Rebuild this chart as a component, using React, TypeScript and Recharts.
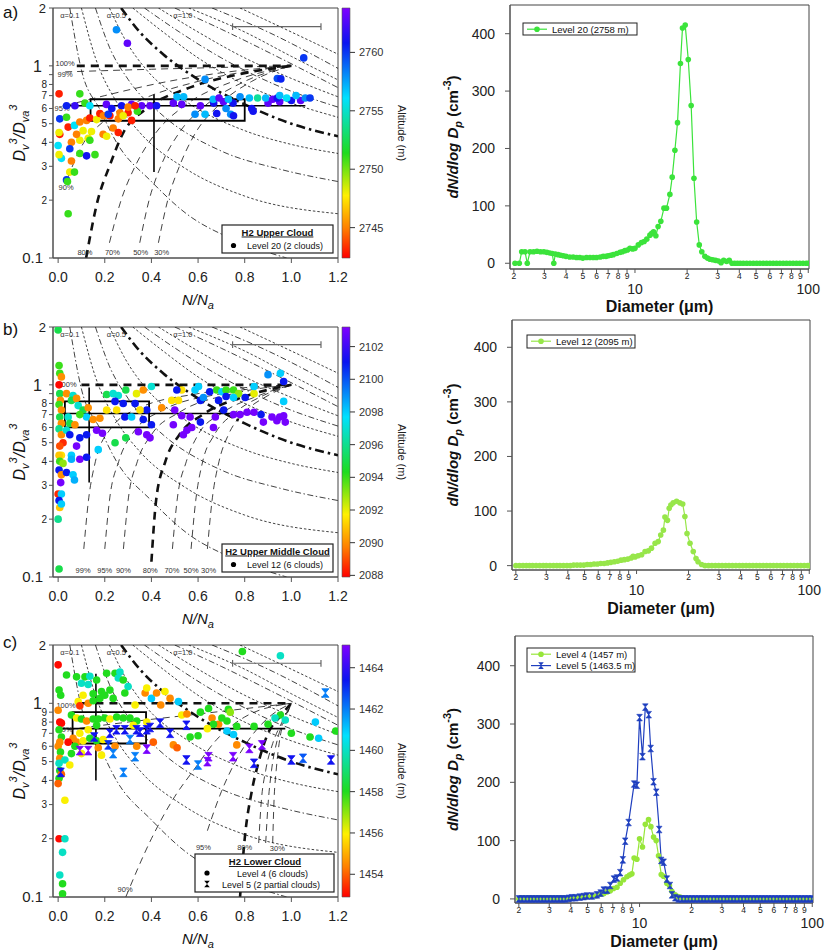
import React from 'react';
import { ComposedChart, Scatter, Line, XAxis, YAxis, ReferenceArea, ReferenceLine } from 'recharts';

const FONT = '"Liberation Sans", Arial, Helvetica, sans-serif';

type Pt = [number, number];
type Obs = [number, number, number];
type Txt = [number, number, string];

// ---------------- scatter observations: [N/Na, Dv3/Dva3, altitude m] ----------------
const pointsA: Obs[] = [
  [0.25,1.54,2758],[0.297,1.31,2763],[1.053,1.10,2760],[0.63,0.85,2758],[0.94,0.86,2759.5],[0.955,0.855,2760.5],
  [0.004,0.715,2743],[0.093,0.715,2751],
  [0.036,0.62,2760.5],[0.072,0.62,2762],[0.115,0.64,2751],[0.136,0.62,2756],[0.207,0.63,2763],[0.272,0.62,2761],
  [0.315,0.63,2763],[0.358,0.62,2763],[0.394,0.62,2763],[0.422,0.62,2761],[0.494,0.64,2763],[0.53,0.63,2763],
  [0.61,0.62,2763],[0.667,0.64,2761],[0.709,0.65,2763],[0.75,0.64,2761],[0.83,0.6,2761],[0.9,0.64,2763],
  [0.95,0.65,2763],[1.0,0.66,2761],[1.04,0.66,2763],
  [0.51,0.69,2757],[0.538,0.69,2757],[0.665,0.67,2757],[0.69,0.68,2763],[0.73,0.67,2757],[0.78,0.69,2758],
  [0.82,0.68,2757],[0.855,0.68,2754],[0.89,0.68,2757],[0.92,0.67,2763],[0.94,0.68,2761],[0.98,0.68,2756],
  [1.02,0.7,2757],[1.06,0.68,2758],[1.08,0.68,2760],[0.95,0.70,2757],
  [0.587,0.56,2758],[0.63,0.56,2757],[0.68,0.565,2761],[0.74,0.56,2758],[0.752,0.55,2761],[0.836,0.58,2761],[0.72,0.6,2758],
  [0.007,0.53,2760],[0.036,0.54,2751],[0.043,0.48,2743],[0.007,0.44,2743],[0.004,0.45,2748],[0.07,0.49,2756],
  [0.093,0.51,2745],[0.122,0.52,2745],[0.136,0.535,2743],[0.165,0.525,2748],[0.179,0.565,2743],[0.222,0.55,2743],
  [0.265,0.57,2745],[0.3,0.57,2743],[0.315,0.52,2743],[0.258,0.53,2745],[0.194,0.55,2745],[0.279,0.55,2748],
  [0.107,0.46,2748],[0.093,0.41,2748],[0.079,0.44,2745],[0.143,0.455,2748],[0.129,0.42,2748],[0.136,0.41,2751],
  [0.193,0.44,2745],[0.208,0.43,2748],[0.236,0.475,2745],[0.258,0.45,2743],[0.057,0.40,2745],[0.0,0.385,2756],
  [0.014,0.33,2756],[0.004,0.345,2748],[0.05,0.37,2760],[0.093,0.35,2751],[0.122,0.34,2761],[0.158,0.345,2751],
  [0.057,0.32,2745],[0.05,0.28,2748],[0.07,0.28,2751],[0.036,0.255,2760],[0.04,0.25,2751],[0.043,0.17,2751],
  [0.215,0.56,2760],[0.23,0.6,2761],[0.34,0.58,2751],[0.3,0.61,2745],[0.33,0.62,2743],
];

const pointsB: Obs[] = [
  [0.0,1.93,2095],[0.004,1.26,2094],[0.007,1.15,2094],[0.014,1.1,2090],[0.004,1.0,2088],[0.007,0.9,2095],
  [0.01,0.83,2090],[0.004,0.79,2094],[0.014,0.74,2090],[0.007,0.68,2095],[0.014,0.63,2090],[0.004,0.59,2096],
  [0.014,0.55,2090],[0.021,0.5,2088.5],[0.007,0.48,2089],[0.014,0.43,2091.5],[0.004,0.43,2091],[0.007,0.4,2094],
  [0.021,0.39,2093],[0.004,0.36,2101],[0.014,0.34,2090],[0.011,0.31,2103],[0.0,0.27,2088.5],[0.014,0.27,2098],
  [0.004,0.25,2101],[0.007,0.23,2091],[0.014,0.24,2098],[0.0,0.2,2096],[0.004,0.11,2095],
  [0.036,0.9,2090],[0.064,0.88,2097],[0.057,0.83,2095],[0.079,0.85,2090],[0.086,0.78,2097],[0.107,0.74,2095],
  [0.122,0.68,2098],[0.093,0.7,2094],[0.043,0.68,2097],[0.05,0.63,2095],[0.072,0.62,2090],[0.036,0.58,2097],
  [0.05,0.55,2101],[0.093,0.53,2101],[0.079,0.48,2103],[0.057,0.43,2098],[0.057,0.41,2098.5],[0.036,0.35,2101],
  [0.064,0.34,2098],[0.07,0.32,2098.5],[0.093,0.41,2103],[0.122,0.42,2101],[0.122,0.55,2101],
  [0.129,0.76,2090],[0.15,0.66,2090],[0.179,0.67,2090],[0.208,0.74,2091.5],[0.208,0.89,2095],[0.236,0.9,2097],
  [0.258,0.88,2097],[0.29,0.94,2095],[0.336,0.9,2092],[0.365,0.94,2090],[0.4,0.98,2097],[0.279,0.8,2101],
  [0.244,0.82,2101],[0.251,0.74,2091.5],[0.286,0.68,2101],[0.315,0.68,2098],[0.33,0.8,2101],[0.38,0.74,2101],
  [0.351,0.74,2091.5],[0.365,0.66,2101],[0.344,0.57,2103],[0.38,0.55,2103],[0.394,0.53,2103],[0.4,0.62,2101],
  [0.19,0.56,2103],[0.172,0.46,2098],[0.244,0.5,2095],[0.29,0.53,2095],[0.165,0.58,2103],
  [0.444,0.76,2090],[0.487,0.83,2091.5],[0.516,0.83,2091.5],[0.53,0.94,2091.5],[0.509,0.94,2101],[0.494,0.62,2103],
  [0.5,0.74,2103],[0.53,0.69,2103],[0.566,0.68,2103],[0.573,0.6,2103],[0.537,0.55,2103],[0.552,0.58,2103],
  [0.587,0.94,2098],[0.602,0.98,2098],[0.61,0.83,2101],[0.623,0.86,2099],[0.65,0.92,2101],[0.68,0.94,2094],
  [0.702,0.92,2098],[0.72,0.94,2094],[0.752,0.94,2094],[0.774,0.9,2093],[0.84,0.9,2092],[0.802,0.86,2101],
  [0.752,0.86,2098],[0.688,0.83,2101],[0.71,0.74,2101],[0.674,0.68,2103],[0.61,0.64,2101],[0.666,0.6,2103],
  [0.752,0.7,2103],[0.78,0.7,2103],[0.81,0.72,2103],[0.84,0.72,2103],[0.87,0.7,2101],[0.88,0.64,2103],
  [0.917,0.68,2103],[0.95,0.68,2103],[0.967,0.69,2103],[0.974,0.64,2103],[0.938,0.65,2103],[0.9,1.13,2099],
  [0.953,1.15,2098],[0.967,1.04,2101],[0.967,0.82,2098],[0.84,0.98,2098],[0.72,0.87,2101],
];

const pointsC4: Obs[] = [
  [0.0,1.58,1453],[0.004,1.17,1458],[0.011,1.1,1458],[0.0,0.92,1454.5],[0.007,0.8,1453],[0.014,0.79,1453],
  [0.004,0.73,1458],[0.014,0.67,1458],[0.007,0.63,1454.5],[0.0,0.6,1454.5],[0.01,0.56,1458],[0.007,0.52,1454.5],
  [0.004,0.49,1460],[0.007,0.45,1458],[0.014,0.43,1454],[0.004,0.41,1458],[0.0,0.385,1454],[0.029,0.316,1456],
  [0.004,0.2,1453],[0.029,0.2,1460],[0.019,0.17,1460],[0.007,0.13,1460],[0.019,0.117,1458],[0.019,0.104,1458],
  [0.036,1.4,1458],[0.079,1.37,1458],[0.1,1.27,1460],[0.115,1.37,1458],[0.129,1.25,1460],[0.136,1.38,1460],
  [0.165,1.32,1458],[0.208,1.43,1458],[0.244,1.43,1458],[0.258,1.35,1460],[0.265,1.45,1460],[0.279,1.32,1458],
  [0.3,1.22,1460],[0.107,1.1,1456],[0.15,1.12,1458],[0.186,1.15,1458],[0.222,1.17,1458],[0.086,1.02,1456],
  [0.129,1.0,1454.5],[0.093,0.97,1453.5],[0.15,1.03,1458],[0.179,1.06,1458],[0.2,1.1,1458],[0.236,1.06,1458],
  [0.286,1.13,1458],[0.33,0.98,1456],[0.373,1.13,1454.5],[0.4,1.06,1461],[0.422,1.13,1454.5],[0.458,1.15,1456],
  [0.38,1.2,1456],[0.48,1.06,1454.5],[0.516,1.02,1461],[0.53,0.87,1456],[0.552,0.88,1454.5],[0.44,0.98,1454.5],
  [0.61,0.9,1458],[0.645,0.94,1458],[0.66,0.84,1454.5],[0.688,0.78,1454.5],[0.702,0.84,1458],[0.724,0.81,1458],
  [0.73,0.93,1458],[0.738,0.9,1457],[0.38,0.8,1456],
  [0.057,0.87,1458],[0.079,0.84,1456],[0.1,0.83,1458],[0.122,0.81,1454.5],[0.15,0.83,1458],[0.172,0.83,1458],
  [0.2,0.84,1458],[0.222,0.83,1456],[0.251,0.85,1458],[0.279,0.84,1458],[0.308,0.84,1458],[0.337,0.81,1458],
  [0.322,0.77,1456],[0.165,0.77,1458],[0.129,0.73,1456],[0.093,0.7,1456],[0.064,0.66,1454.5],[0.043,0.63,1453],
  [0.079,0.63,1454.5],[0.107,0.64,1456],[0.136,0.66,1458],[0.165,0.64,1458],[0.193,0.65,1456],[0.072,0.6,1458],
  [0.1,0.55,1456],[0.057,0.55,1458],[0.186,0.54,1456],[0.172,0.59,1454.5],[0.029,0.51,1460],[0.05,0.48,1456],
  [0.244,0.6,1454.5],[0.337,0.6,1454.5],[0.408,0.63,1454],[0.494,0.61,1454.5],[0.51,0.59,1454],
  [0.766,0.76,1458],[0.84,0.76,1458],[0.9,0.78,1458],[0.766,0.61,1454.5],[0.724,0.72,1461],[0.666,0.78,1458],
  [0.64,0.74,1456],[0.566,0.67,1458],[0.6,0.68,1458],[0.752,0.69,1461],[0.953,0.87,1458],[0.93,0.84,1460],
  [0.974,0.82,1460],[1.0,0.7,1458],[1.08,0.67,1458],[1.117,0.66,1461],[1.103,0.8,1461],[1.19,0.72,1458],
  [0.79,1.85,1458],[0.953,1.76,1460],
];

const pointsC5: Obs[] = [
  [0.011,0.44,1463.5],[0.093,0.57,1465],[0.129,0.57,1465],[0.155,0.67,1463.5],[0.215,0.61,1463],[0.236,0.55,1462],
  [0.222,0.7,1463.5],[0.25,0.73,1463.5],[0.286,0.73,1463.5],[0.308,0.65,1462],[0.33,0.53,1462],[0.336,0.73,1463.5],
  [0.351,0.71,1463.5],[0.38,0.73,1463.5],[0.38,0.58,1465],[0.394,0.75,1463.5],[0.437,0.79,1463.5],[0.48,0.7,1463.5],
  [0.55,0.77,1463.5],[0.28,0.44,1462],[0.55,0.51,1463.5],[0.6,0.48,1462],[0.64,0.5,1465],[0.645,0.53,1465],
  [0.75,0.53,1465],[0.82,0.585,1465],[0.84,0.49,1463.5],[0.874,0.61,1465],[1.0,0.51,1463.5],[1.05,0.52,1462.5],
  [1.17,0.51,1463.5],[1.146,1.13,1462],
];

// ---------------- theoretical mixing curves ----------------
const alphaC1: Pt[] = [[0.05,2],[0.1,0.95],[0.18,0.59],[0.25,0.4],[0.4,0.25],[0.55,0.17],[0.75,0.125],[0.98,0.1]];
const alphaC2: Pt[] = [[0.1,2],[0.16,1.1],[0.25,0.65],[0.35,0.45],[0.55,0.29],[0.8,0.21],[1.2,0.17]];
const alphaC3: Pt[] = [[0.16,2],[0.22,1.25],[0.3,0.85],[0.45,0.55],[0.7,0.36],[0.95,0.29],[1.2,0.25]];
const alphaC4: Pt[] = [[0.22,2],[0.29,1.35],[0.38,0.95],[0.55,0.65],[0.8,0.46],[1.0,0.39],[1.2,0.35]];
const alphaC5: Pt[] = [[0.27,2],[0.35,1.5],[0.45,1.15],[0.6,0.85],[0.8,0.63],[1.0,0.5],[1.2,0.43]];
const alphaC6: Pt[] = [[0.32,2],[0.45,1.5],[0.6,1.1],[0.8,0.8],[1.0,0.64],[1.2,0.54]];
const alphaC7: Pt[] = [[0.37,2],[0.52,1.5],[0.7,1.1],[0.95,0.78],[1.2,0.61]];
const alphaC8: Pt[] = [[0.43,2],[0.6,1.5],[0.8,1.1],[1.0,0.86],[1.2,0.69]];
const alphaC9: Pt[] = [[0.5,2],[0.7,1.55],[0.95,1.1],[1.2,0.77]];
const alphaC10: Pt[] = [[0.56,2],[0.8,1.5],[1.0,1.12],[1.2,0.845]];
const alphaC11: Pt[] = [[0.66,2],[0.9,1.5],[1.2,0.97]];
const alphaC12: Pt[] = [[0.78,2],[1.0,1.5],[1.2,1.15]];

const pctA100: Pt[] = [[0.08,1],[1,1]];
const pctA99: Pt[] = [[0.03,0.93],[0.4,0.96],[1,1]];
const pctA95: Pt[] = [[0.03,0.62],[0.2,0.7],[0.45,0.82],[0.7,0.92],[1,1]];
const pctA90: Pt[] = [[0.04,0.26],[0.1,0.38],[0.2,0.52],[0.35,0.66],[0.6,0.83],[1,1]];
const pctA80: Pt[] = [[0.12,0.1],[0.17,0.2],[0.22,0.3],[0.28,0.45],[0.38,0.6],[0.55,0.76],[0.75,0.89],[1,1]];
const pctA70: Pt[] = [[0.22,0.12],[0.27,0.2],[0.33,0.3],[0.42,0.45],[0.55,0.63],[0.75,0.83],[1,1]];
const pctA50: Pt[] = [[0.35,0.12],[0.39,0.2],[0.44,0.3],[0.52,0.45],[0.63,0.62],[0.8,0.83],[1,1]];
const pctA30: Pt[] = [[0.43,0.12],[0.47,0.2],[0.52,0.3],[0.59,0.45],[0.68,0.61],[0.83,0.83],[1,1]];

const pctB100: Pt[] = [[0.1,1],[1,1]];
const pctB99: Pt[] = [[0.11,0.14],[0.13,0.25],[0.16,0.4],[0.22,0.58],[0.35,0.76],[0.6,0.9],[1,1]];
const pctB95: Pt[] = [[0.2,0.14],[0.22,0.25],[0.26,0.4],[0.32,0.56],[0.45,0.74],[0.7,0.9],[1,1]];
const pctB90: Pt[] = [[0.28,0.14],[0.3,0.25],[0.34,0.4],[0.4,0.55],[0.52,0.72],[0.75,0.9],[1,1]];
const pctB80: Pt[] = [[0.4,0.12],[0.42,0.25],[0.46,0.4],[0.52,0.55],[0.62,0.7],[0.8,0.87],[1,1]];
const pctB70: Pt[] = [[0.49,0.14],[0.51,0.25],[0.55,0.4],[0.6,0.55],[0.7,0.71],[0.85,0.87],[1,1]];
const pctB50: Pt[] = [[0.57,0.14],[0.59,0.25],[0.62,0.4],[0.67,0.55],[0.76,0.72],[0.88,0.88],[1,1]];
const pctB30: Pt[] = [[0.64,0.14],[0.66,0.25],[0.69,0.4],[0.73,0.55],[0.8,0.72],[0.9,0.88],[1,1]];

const pctC100: Pt[] = [[0.1,1],[1,1]];
const pctC99: Pt[] = [[0.04,0.73],[0.3,0.8],[0.6,0.88],[1,1]];
const pctC90: Pt[] = [[0.29,0.1],[0.4,0.2],[0.5,0.33],[0.58,0.45],[0.68,0.65],[0.8,0.85],[1,1]];
const pctC95: Pt[] = [[0.64,0.22],[0.7,0.35],[0.76,0.5],[0.83,0.68],[0.9,0.84],[1,1]];
const pctC80: Pt[] = [[0.78,0.1],[0.8,0.2],[0.83,0.35],[0.86,0.5],[0.9,0.7],[0.95,0.85],[1,1]];
const pctC70: Pt[] = [[0.86,0.19],[0.87,0.3],[0.89,0.45],[0.92,0.62],[0.96,0.8],[1,1]];
const pctC50: Pt[] = [[0.89,0.19],[0.9,0.3],[0.915,0.45],[0.94,0.65],[0.97,0.82],[1,1]];
const pctC30: Pt[] = [[0.92,0.19],[0.925,0.3],[0.935,0.45],[0.95,0.65],[0.975,0.83],[1,1]];

const alphaLabels: Txt[] = [[0.05,1.84,'α=0.1'],[0.25,1.84,'α=0.5'],[0.535,1.84,'α=1.0']];
const textsA: Txt[] = [[0.03,1.03,'100%'],[0.03,0.9,'99%'],[0.017,0.6,'95%'],[0.034,0.233,'90%'],[0.115,0.107,'80%'],[0.233,0.107,'70%'],[0.354,0.107,'50%'],[0.444,0.107,'30%']];
const textsB: Txt[] = [[0.038,1.0,'100%'],[0.107,0.108,'99%'],[0.2,0.108,'95%'],[0.28,0.108,'90%'],[0.395,0.108,'80%'],[0.488,0.108,'70%'],[0.57,0.108,'50%'],[0.645,0.108,'30%']];
const textsC: Txt[] = [[0.034,0.98,'100%'],[0.03,0.73,'99%'],[0.623,0.18,'95%'],[0.8,0.18,'80%'],[0.94,0.178,'30%'],[0.287,0.109,'90%']];

// summary box [x1,x2,y1,y2], mean lines, scale bar
const boxA = [0.139, 0.8, 0.518, 0.67];
const hA = [0.02, 1.06, 0.62];
const vA = [0.411, 0.28, 0.71];
const boxB = [0.029, 0.39, 0.6, 0.82];
const hB = [0.007, 0.834, 0.71];
const vB = [0.133, 0.31, 0.97];
const boxC = [0.062, 0.377, 0.62, 0.9];
const hC = [0.0, 0.974, 0.74];
const vC = [0.162, 0.4, 1.42];
const scaleBar = [0.748, 1.127];

const X_TICKS = [0, 0.2, 0.4, 0.6, 0.8, 1.0, 1.2];
const Y_TICKS = [0.1, 0.2, 0.3, 0.4, 0.5, 0.6, 0.7, 0.8, 0.9, 1, 2];
const altTicksA = [2745, 2750, 2755, 2760];
const altTicksB = [2088, 2090, 2092, 2094, 2096, 2098, 2100, 2102];
const altTicksC = [1454, 1456, 1458, 1460, 1462, 1464];

// ---------------- size distributions: [diameter µm, dN/dlogDp] ----------------
const level20: Pt[] = [
  [2.03,0],[2.15,0],[2.22,20],[2.32,20],[2.39,0],[2.48,20],[2.6,20],[2.72,21],[2.85,20],[2.98,20],[3.1,19],[3.22,18],
  [3.33,17],[3.4,0],[3.47,16],[3.6,15],[3.73,14],[3.86,13],[4.0,12],[4.2,11],[4.4,11],[4.6,10],[4.8,10],[5.0,9],
  [5.25,10],[5.5,10],[5.75,10],[6.0,10],[6.3,11],[6.56,12],[6.8,12],[7.0,13],[7.25,14],[7.5,15],[7.85,17],[8.2,19],
  [8.45,20],[8.75,22],[9.05,23],[9.35,26],[9.7,25],[10.0,26],[10.45,32],[10.9,36],[11.3,38],[11.7,42],[12.2,49],
  [12.5,52],[12.8,55],[13.2,48],[13.6,64],[14.1,73],[14.7,96],[15.2,96],[15.9,120],[16.4,150],[17.0,197],[17.6,245],
  [18.3,348],[18.8,410],[19.5,415],[20.3,355],[21.1,275],[21.9,148],[22.7,72],[23.5,32],[24.3,20],[25.3,12],[26.2,9],
  [27.1,7],[28.1,6],[29.2,5],[30.3,4],[31.4,1],[32.5,5],[33.8,3],[35.0,5],[36.3,0],[37.6,0],[39,0],[40.5,0],[42.2,0],
  [44.1,0],[46.1,0],[48.2,0],[50.4,0],[52.6,0],[55,0],[57.5,0],[60.1,0],[62.8,0],[65.6,0],[68.6,0],[71.7,0],[74.9,0],
  [78.3,0],[81.8,0],[85.5,0],[89.3,0],[93.3,0],[97.5,0],[100,0],
];

const level12: Pt[] = [
  [2.0,0],[2.1,0],[2.2,0],[2.3,0],[2.4,0],[2.5,0],[2.62,0],[2.75,0],[2.88,0],[3.0,0],[3.15,0],[3.3,0],[3.45,0],[3.6,0],
  [3.77,0],[3.95,0],[4.13,0],[4.32,1],[4.52,1],[4.73,1],[4.95,1],[5.18,2],[5.42,2],[5.67,3],[5.93,3],[6.2,4],[6.49,4],
  [6.79,5],[7.1,6],[7.43,7],[7.77,8],[8.13,10],[8.5,11],[8.9,12],[9.3,14],[9.55,17],[9.8,16],[10.2,18],[10.7,20],
  [11.2,26],[11.7,27],[12.2,32],[12.8,41],[13.35,44],[13.8,56],[14.3,65],[14.6,89],[15.1,83],[15.45,105],[15.8,111],
  [16.3,115],[17.05,118],[17.8,115],[18.5,113],[19.05,90],[19.6,59],[20.4,41],[21.3,26],[22.1,13],[22.7,7],[23.8,2],
  [24.9,0],[26.1,0],[27.3,0],[28.6,0],[29.9,0],[31.3,0],[32.8,0],[34.3,0],[35.9,0],[37.6,0],[39.4,0],[41.2,0],[43.1,0],
  [45.1,0],[47.2,0],[49.4,0],[51.7,0],[54.1,0],[56.6,0],[59.3,0],[62.0,0],[64.9,0],[68,0],[71.1,0],[74.4,0],[77.9,0],
  [81.5,0],[85.3,0],[89.3,0],[93.5,0],[97.8,0],[100,0],
];

const level4: Pt[] = [
  [2.0,0],[2.05,2],[2.14,2],[2.24,2],[2.34,2],[2.45,2],[2.56,2],[2.68,2],[2.8,2],[2.93,2],[3.06,2],[3.2,2],[3.35,2],
  [3.5,2],[3.66,2],[3.83,2],[4.0,2],[4.18,2],[4.37,3],[4.57,3],[4.78,3],[5.0,4],[5.3,4],[5.6,5],[5.93,8],[6.2,9],
  [6.48,12],[6.77,14],[7.07,18],[7.4,20],[7.73,27],[8.08,33],[8.45,38],[8.75,41],[9.03,43],[9.3,70],[9.65,68],
  [10.0,103],[10.4,89],[10.8,128],[11.27,136],[11.63,124],[12.05,106],[12.48,100],[12.88,74],[13.35,42],[13.76,39],
  [14.38,27],[14.9,23],[15.38,13],[16.07,7],[16.7,4],[17.18,3],[17.8,1],[18.5,0],[19.3,0],[20.2,0],[21.1,0],[22.1,0],
  [23.1,0],[24.1,0],[25.2,0],[26.3,0],[27.5,0],[28.8,0],[30.1,0],[31.4,0],[32.8,0],[34.3,0],[35.9,0],[37.5,0],[39.2,0],
  [41,0],[42.8,0],[44.8,0],[46.8,0],[48.9,0],[51.1,0],[53.4,0],[55.8,0],[58.3,0],[61,0],[63.7,0],[66.6,0],[69.6,0],
  [72.8,0],[76.1,0],[79.5,0],[83.1,0],[86.8,0],[90.8,0],[94.9,0],[99.2,0],
];

const level5: Pt[] = [
  [2.0,0],[2.09,0],[2.19,0],[2.29,0],[2.39,0],[2.5,0],[2.61,0],[2.73,0],[2.85,0],[2.98,0],[3.12,0],[3.26,0],[3.41,0],
  [3.56,0],[3.72,0],[3.89,1],[4.06,2],[4.25,2],[4.5,3],[4.75,4],[4.96,5],[5.3,5],[5.67,7],[5.95,10],[6.2,15],[6.5,15],
  [6.77,23],[7.1,34],[7.4,36],[7.73,45],[8.0,67],[8.26,99],[8.64,131],[9.3,197],[9.65,195],[10.0,311],[10.4,244],
  [10.8,329],[11.3,316],[11.6,258],[12.05,201],[12.5,183],[13.0,119],[13.35,66],[13.8,63],[14.4,34],[15.0,23],[15.4,7],
  [16.1,2],[16.8,0],[17.6,0],[18.4,0],[19.2,0],[20.1,0],[21,0],[22,0],[23,0],[24,0],[25.1,0],[26.3,0],[27.5,0],
  [28.7,0],[30,0],[31.4,0],[32.8,0],[34.3,0],[35.8,0],[37.5,0],[39.2,0],[41,0],[42.8,0],[44.8,0],[46.8,0],[48.9,0],
  [51.1,0],[53.4,0],[55.8,0],[58.3,0],[61,0],[63.7,0],[66.6,0],[69.6,0],[72.8,0],[76.1,0],[79.5,0],[83.1,0],[86.8,0],
  [90.8,0],[94.9,0],[99.2,0],
];

const D_TICKS = [2, 3, 4, 5, 6, 7, 8, 9, 10, 20, 30, 40, 50, 60, 70, 80, 90, 100];
const N_TICKS = [0, 100, 200, 300, 400];

const COL_L20 = '#3be33b';
const COL_L12 = '#97e64a';
const COL_L4 = '#97e63a';
const COL_L5 = '#1f3fbf';

// ---------------- helpers ----------------
const STOPS: [number, number[]][] = [
  [0, [255, 0, 0]], [0.12, [255, 128, 0]], [0.25, [255, 240, 0]], [0.42, [30, 220, 30]],
  [0.64, [0, 225, 255]], [0.86, [10, 20, 240]], [1, [128, 0, 255]],
];
function rainbow(t: number): string {
  const s = Math.max(0, Math.min(1, t));
  for (let i = 1; i < STOPS.length; i++) {
    const [t1, c1] = STOPS[i];
    const [t0, c0] = STOPS[i - 1];
    if (s <= t1) {
      const f = (s - t0) / (t1 - t0);
      const c = c0.map((v, k) => Math.round(v + (c1[k] - v) * f));
      return `rgb(${c[0]},${c[1]},${c[2]})`;
    }
  }
  return 'rgb(128,0,255)';
}
function rgbHex(c: number[]) {
  return `rgb(${c[0]},${c[1]},${c[2]})`;
}

const STY: Record<string, { w: number; d: string }> = {
  dd: { w: 0.8, d: '6 2.5 1.5 2.5' },
  dot: { w: 0.8, d: '2.5 2' },
  tdd: { w: 2.6, d: '9 4 2.5 4' },
  dash: { w: 0.8, d: '7 5' },
  tdash: { w: 2.6, d: '8 6' },
};

const alphaCurves: [Pt[], string][] = [
  [alphaC1, 'dd'], [alphaC2, 'dot'], [alphaC3, 'dd'], [alphaC4, 'dot'], [alphaC5, 'tdd'], [alphaC6, 'dot'],
  [alphaC7, 'dd'], [alphaC8, 'dot'], [alphaC9, 'dd'], [alphaC10, 'dot'], [alphaC11, 'dd'], [alphaC12, 'dot'],
];
const pctCurvesA: [Pt[], string][] = [[pctA100,'tdash'],[pctA99,'dash'],[pctA95,'dash'],[pctA90,'dash'],[pctA80,'tdash'],[pctA70,'dash'],[pctA50,'dash'],[pctA30,'dash']];
const pctCurvesB: [Pt[], string][] = [[pctB100,'tdash'],[pctB99,'dash'],[pctB95,'dash'],[pctB90,'dash'],[pctB80,'tdash'],[pctB70,'dash'],[pctB50,'dash'],[pctB30,'dash']];
const pctCurvesC: [Pt[], string][] = [[pctC100,'tdash'],[pctC99,'dash'],[pctC90,'dash'],[pctC95,'dash'],[pctC80,'tdash'],[pctC70,'dash'],[pctC50,'dash'],[pctC30,'dash']];

const toXY = (pts: Pt[]) => pts.map(([x, y]) => ({ x, y }));
const toObs = (pts: Obs[]) => pts.map(([x, y, alt]) => ({ x, y, alt }));
const toTxt = (pts: Txt[]) => pts.map(([x, y, t]) => ({ x, y, t }));

const hourglassPath = (cx: number, cy: number, w: number, h: number) =>
  `M${cx - w},${cy - h}h${2 * w}l${-w},${h}z M${cx - w},${cy + h}h${2 * w}l${-w},${-h}z`;

function ScatterPanel(props: any) {
  const { T, B, pts, pts5, pct, texts, box, hl, vl, barY, cmin, cmax, showNine } = props;
  const h = B - T + 8 + 52;
  const circle = (p: any) => (
    <circle cx={p.cx} cy={p.cy} r={3.8} fill={rainbow((p.payload.alt - cmin) / (cmax - cmin))} />
  );
  const hour = (p: any) => {
    const c = rainbow((p.payload.alt - cmin) / (cmax - cmin));
    return <path d={hourglassPath(p.cx, p.cy, 3.6, 4.3)} fill={c} stroke={c} strokeWidth={0.8} />;
  };
  const txt = (p: any) => (
    <text x={p.cx} y={p.cy} dy={2.6} textAnchor="middle" fontSize={7.5} fill="#333" fontFamily={FONT}>
      {p.payload.t}
    </text>
  );
  const yTick = (p: any) => {
    const v = p.payload.value;
    let label = '';
    let fs = 10;
    let dx = 0;
    if (Math.abs(v - 0.1) < 1e-6) { label = '0.1'; fs = 15; dx = -4; }
    else if (Math.abs(v - 1) < 1e-6) { label = '1'; fs = 16; dx = -5; }
    else if (Math.abs(v - 2) < 1e-6) { label = '2'; fs = 13; dx = -1; }
    else {
      const d = Math.round(v * 10);
      label = d === 9 && !showNine ? '' : String(d);
    }
    return (
      <text x={p.x + dx} y={p.y} dy={fs * 0.36} textAnchor="end" fontSize={fs} fill="#222" fontFamily={FONT}>
        {label}
      </text>
    );
  };
  const xTick = (p: any) => (
    <text x={p.x} y={p.y + 17} textAnchor="middle" fontSize={14} fill="#222" fontFamily={FONT}>
      {Number(p.payload.value).toFixed(1)}
    </text>
  );
  return (
    <div style={{ position: 'absolute', left: 0, top: T - 8 }}>
      <ComposedChart width={356} height={h} margin={{ top: 8, right: 18, bottom: 0, left: 0 }}>
        <XAxis type="number" dataKey="x" domain={[-0.022, 1.2]} allowDataOverflow ticks={X_TICKS} interval={0}
          tick={xTick} tickSize={5} stroke="#555" height={52} />
        <YAxis type="number" dataKey="y" scale="log" domain={[0.1, 2]} allowDataOverflow ticks={Y_TICKS} interval={0}
          tick={yTick} width={53} tickSize={4} stroke="#555" />
        <ReferenceArea x1={-0.022} x2={1.2} y1={0.1} y2={2} fill="none" stroke="#444" strokeWidth={1} ifOverflow="visible" />
        {alphaCurves.map(([c, k], i) => (
          <Line key={'a' + i} data={toXY(c)} dataKey="y" type="monotone" stroke="#111" strokeWidth={STY[k].w}
            strokeDasharray={STY[k].d} dot={false} activeDot={false} isAnimationActive={false} />
        ))}
        {pct.map(([c, k]: [Pt[], string], i: number) => (
          <Line key={'p' + i} data={toXY(c)} dataKey="y" type="monotone" stroke="#111" strokeWidth={STY[k].w}
            strokeDasharray={STY[k].d} dot={false} activeDot={false} isAnimationActive={false} />
        ))}
        <Scatter data={toTxt(alphaLabels)} shape={txt} isAnimationActive={false} />
        <Scatter data={toTxt(texts)} shape={txt} isAnimationActive={false} />
        <Scatter data={toObs(pts)} shape={circle} isAnimationActive={false} />
        {pts5 ? <Scatter data={toObs(pts5)} shape={hour} isAnimationActive={false} /> : null}
        <ReferenceArea x1={box[0]} x2={box[1]} y1={box[2]} y2={box[3]} fill="none" stroke="#000" strokeWidth={1.8} />
        <ReferenceLine segment={[{ x: hl[0], y: hl[2] }, { x: hl[1], y: hl[2] }]} stroke="#000" strokeWidth={1.6} />
        <ReferenceLine segment={[{ x: vl[0], y: vl[1] }, { x: vl[0], y: vl[2] }]} stroke="#000" strokeWidth={1.6} />
        <ReferenceLine segment={[{ x: scaleBar[0], y: barY }, { x: scaleBar[1], y: barY }]} stroke="#666" strokeWidth={1.2} />
        <ReferenceLine segment={[{ x: scaleBar[0], y: barY * 0.96 }, { x: scaleBar[0], y: barY * 1.04 }]} stroke="#666" strokeWidth={1.2} />
        <ReferenceLine segment={[{ x: scaleBar[1], y: barY * 0.96 }, { x: scaleBar[1], y: barY * 1.04 }]} stroke="#666" strokeWidth={1.2} />
      </ComposedChart>
    </div>
  );
}

function ColorBar(props: any) {
  const { T, B, cmin, cmax, ticks, gradId } = props;
  return (
    <div style={{ position: 'absolute', left: 335, top: T - 8 }}>
      <ComposedChart width={90} height={B - T + 16} margin={{ top: 8, right: 0, bottom: 8, left: 7 }}>
        <XAxis type="number" dataKey="x" domain={[0, 1]} hide />
        <YAxis type="number" dataKey="y" orientation="right" domain={[cmin, cmax]} allowDataOverflow ticks={ticks}
          interval={0} width={75} tickSize={5} tickMargin={4} axisLine={false} stroke="#333"
          tick={{ fontSize: 11, fill: '#333', fontFamily: FONT }} />
        <Scatter data={[{ x: 0.5, y: cmin }]} shape={() => <g />} isAnimationActive={false} />
        <ReferenceArea x1={0} x2={1} y1={cmin} y2={cmax} fill={`url(#${gradId})`} fillOpacity={1} stroke="#555" strokeWidth={0.6} />
      </ComposedChart>
    </div>
  );
}

function SizePanel(props: any) {
  const { pt, pb, pl, pr, ydom, series } = props;
  const h = 5 + (pb - pt) + 45;
  const dTick = (p: any) => {
    const v = p.payload.value;
    if (v === 10 || v === 100) {
      return <text x={p.x} y={p.y + 19} textAnchor="middle" fontSize={14} fill="#222" fontFamily={FONT}>{v}</text>;
    }
    const d = v >= 20 ? v / 10 : v;
    return <text x={p.x} y={p.y + 4} textAnchor="middle" fontSize={8.5} fill="#222" fontFamily={FONT}>{d}</text>;
  };
  return (
    <div style={{ position: 'absolute', left: 440, top: pt - 5 }}>
      <ComposedChart width={385} height={h} margin={{ top: 5, right: 825 - pr, bottom: 0, left: 0 }}>
        <XAxis type="number" dataKey="x" scale="log" domain={[1.9, 101]} allowDataOverflow ticks={D_TICKS}
          interval={0} tick={dTick} tickSize={4} stroke="#555" height={45} />
        <YAxis type="number" dataKey="y" domain={ydom} allowDataOverflow ticks={N_TICKS} interval={0} tickSize={5}
          tickMargin={10} width={pl - 440} stroke="#555" tick={{ fontSize: 14, fill: '#222', fontFamily: FONT }} />
        <ReferenceArea x1={1.9} x2={101} y1={ydom[0]} y2={ydom[1]} fill="none" stroke="#444" ifOverflow="visible" />
        {series.map((s: any, i: number) => (
          <Line key={i} data={toXY(s.data)} dataKey="y" type="linear" stroke={s.color} strokeWidth={1.2}
            isAnimationActive={false} activeDot={false}
            dot={(p: any) =>
              s.marker === 'hour' ? (
                <path key={p.index} d={hourglassPath(p.cx, p.cy, 2.8, 3.3)} fill={s.color} stroke={s.color} strokeWidth={0.6} />
              ) : (
                <circle key={p.index} cx={p.cx} cy={p.cy} r={2.8} fill={s.color} />
              )
            } />
        ))}
      </ComposedChart>
    </div>
  );
}

function ScatterLegend(props: any) {
  const { x, y, w, h, title, items, tx } = props;
  return (
    <g fontFamily={FONT}>
      <rect x={x} y={y} width={w} height={h} fill="#fff" stroke="#222" strokeWidth={1.2} />
      <text x={x + w / 2} y={y + 10.5} textAnchor="middle" fontSize={9.5} fontWeight="bold" textDecoration="underline" fill="#111">{title}</text>
      {items.map((it: any, i: number) => (
        <g key={i}>
          {it.m === 'c' ? (
            <circle cx={x + 11.5} cy={y + 20.5 + i * 11.5} r={2.6} fill="#000" />
          ) : (
            <path d={hourglassPath(x + 11.5, y + 20.5 + i * 11.5, 2.8, 3.3)} fill="#000" />
          )}
          <text x={tx} y={y + 24 + i * 11.5} fontSize={9} fill="#111">{it.t}</text>
        </g>
      ))}
    </g>
  );
}

function SizeLegend(props: any) {
  const { x, y, w, h, items } = props;
  return (
    <g fontFamily={FONT}>
      <rect x={x} y={y} width={w} height={h} fill="#fff" stroke="#222" strokeWidth={1} />
      {items.map((it: any, i: number) => {
        const cy = y + 6.2 + i * 11.4;
        return (
          <g key={i}>
            <line x1={x + 4} x2={x + 24} y1={cy} y2={cy} stroke={it.c} strokeWidth={1.2} />
            {it.m === 'c' ? (
              <circle cx={x + 14} cy={cy} r={2.8} fill={it.c} />
            ) : (
              <path d={hourglassPath(x + 14, cy, 2.8, 3.3)} fill={it.c} />
            )}
            <text x={x + 29} y={cy + 3.3} fontSize={9.5} fill="#111">{it.t}</text>
          </g>
        );
      })}
    </g>
  );
}

export default function App() {
  const scatterRows = [
    { T: 8, B: 258, letter: 'a)', ly: 18 },
    { T: 327, B: 577, letter: 'b)', ly: 335 },
    { T: 645, B: 897, letter: 'c)', ly: 648 },
  ];
  const sizeRows = [
    { pt: 5, pb: 269, pl: 510, pr: 809, xb: 312 },
    { pt: 320, pb: 570, pl: 512, pr: 810, xb: 614 },
    { pt: 636, pb: 903, pl: 515, pr: 813, xb: 947 },
  ];
  return (
    <div style={{ position: 'absolute', left: 0, top: 0, width: 825, height: 950, background: '#fff', fontFamily: FONT, overflow: 'hidden' }}>
      <svg width={0} height={0} style={{ position: 'absolute' }}>
        <defs>
          {['gradA', 'gradB', 'gradC'].map((id) => (
            <linearGradient key={id} id={id} x1="0" y1="1" x2="0" y2="0">
              {STOPS.map(([t, c], i) => (
                <stop key={i} offset={t} stopColor={rgbHex(c)} />
              ))}
            </linearGradient>
          ))}
        </defs>
      </svg>

      <ColorBar T={8} B={258} cmin={2742.4} cmax={2763.8} ticks={altTicksA} gradId="gradA" />
      <ColorBar T={327} B={577} cmin={2087.9} cmax={2103.2} ticks={altTicksB} gradId="gradB" />
      <ColorBar T={645} B={897} cmin={1452.9} cmax={1465.1} ticks={altTicksC} gradId="gradC" />

      <ScatterPanel T={8} B={258} pts={pointsA} pct={pctCurvesA} texts={textsA} box={boxA} hl={hA} vl={vA} barY={1.6}
        cmin={2742.4} cmax={2763.8} showNine={false} />
      <ScatterPanel T={327} B={577} pts={pointsB} pct={pctCurvesB} texts={textsB} box={boxB} hl={hB} vl={vB} barY={1.62}
        cmin={2087.9} cmax={2103.2} showNine={false} />
      <ScatterPanel T={645} B={897} pts={pointsC4} pts5={pointsC5} pct={pctCurvesC} texts={textsC} box={boxC} hl={hC} vl={vC}
        barY={1.61} cmin={1452.9} cmax={1465.1} showNine={true} />

      <SizePanel {...sizeRows[0]} ydom={[-10, 450]} series={[{ data: level20, color: COL_L20, marker: 'c' }]} />
      <SizePanel {...sizeRows[1]} ydom={[-8, 450]} series={[{ data: level12, color: COL_L12, marker: 'c' }]} />
      <SizePanel {...sizeRows[2]} ydom={[-7, 451]} series={[
        { data: level4, color: COL_L4, marker: 'c' },
        { data: level5, color: COL_L5, marker: 'hour' },
      ]} />

      <svg width={825} height={950} style={{ position: 'absolute', left: 0, top: 0, pointerEvents: 'none' }} fontFamily={FONT}>
        {scatterRows.map((r, i) => {
          const mid = (r.T + r.B) / 2;
          return (
            <g key={i}>
              <text x={3} y={r.ly} fontSize={17} fill="#111">{r.letter}</text>
              <text transform={`translate(25,${mid}) rotate(-90)`} textAnchor="middle" fontStyle="italic" fontSize={16} fill="#111">
                D<tspan fontSize={11} dy={4}>v</tspan><tspan fontSize={11} dy={-12}>3</tspan>
                <tspan dy={8}>/D</tspan><tspan fontSize={11} dy={4}>va</tspan><tspan fontSize={11} dy={-12}>3</tspan>
              </text>
              <text x={198} y={r.B + 47} textAnchor="middle" fontStyle="italic" fontSize={15} fill="#111">
                N/N<tspan fontSize={11} dy={4}>a</tspan>
              </text>
              <text transform={`translate(398,${mid}) rotate(90)`} textAnchor="middle" fontSize={11} fill="#222">Altitude (m)</text>
            </g>
          );
        })}
        {sizeRows.map((r, i) => {
          const mid = (r.pt + r.pb) / 2;
          return (
            <g key={'s' + i}>
              <text transform={`translate(458,${mid}) rotate(-90)`} textAnchor="middle" fontWeight="bold" fontSize={15} fill="#111">
                <tspan fontStyle="italic">dN/dlog D</tspan><tspan fontStyle="italic" fontSize={11} dy={4}>p</tspan>
                <tspan dy={-4}> (cm</tspan><tspan fontSize={11} dy={-7}>-3</tspan><tspan dy={7}>)</tspan>
              </text>
              <text x={(r.pl + r.pr) / 2} y={r.xb} textAnchor="middle" fontWeight="bold" fontSize={16} fill="#111">Diameter (μm)</text>
            </g>
          );
        })}

        <ScatterLegend x={222} y={225} w={111} h={28} tx={247} title="H2 Upper Cloud" items={[{ m: 'c', t: 'Level 20 (2 clouds)' }]} />
        <ScatterLegend x={222} y={544} w={111} h={28} tx={247} title="H2 Upper Middle Cloud" items={[{ m: 'c', t: 'Level 12 (6 clouds)' }]} />
        <g>
          <rect x={195} y={854} width={139} height={38} fill="#fff" stroke="#222" strokeWidth={1.2} />
          <text x={265} y={865} textAnchor="middle" fontSize={9.5} fontWeight="bold" textDecoration="underline" fill="#111">H2 Lower Cloud</text>
          <circle cx={207} cy={873} r={2.6} fill="#000" />
          <text x={237} y={876.5} fontSize={9} fill="#111">Level 4 (6 clouds)</text>
          <path d={hourglassPath(207, 884, 2.8, 3.3)} fill="#000" />
          <text x={222} y={887.5} fontSize={9} fill="#111">Level 5 (2 partial clouds)</text>
        </g>

        <SizeLegend x={523} y={23} w={114} h={12} items={[{ c: COL_L20, m: 'c', t: 'Level 20 (2758 m)' }]} />
        <SizeLegend x={527} y={335} w={108} h={13} items={[{ c: COL_L12, m: 'c', t: 'Level 12 (2095 m)' }]} />
        <SizeLegend x={527} y={648} w={108} h={24} items={[
          { c: COL_L4, m: 'c', t: 'Level 4 (1457 m)' },
          { c: COL_L5, m: 'h', t: 'Level 5 (1463.5 m)' },
        ]} />
      </svg>
    </div>
  );
}
